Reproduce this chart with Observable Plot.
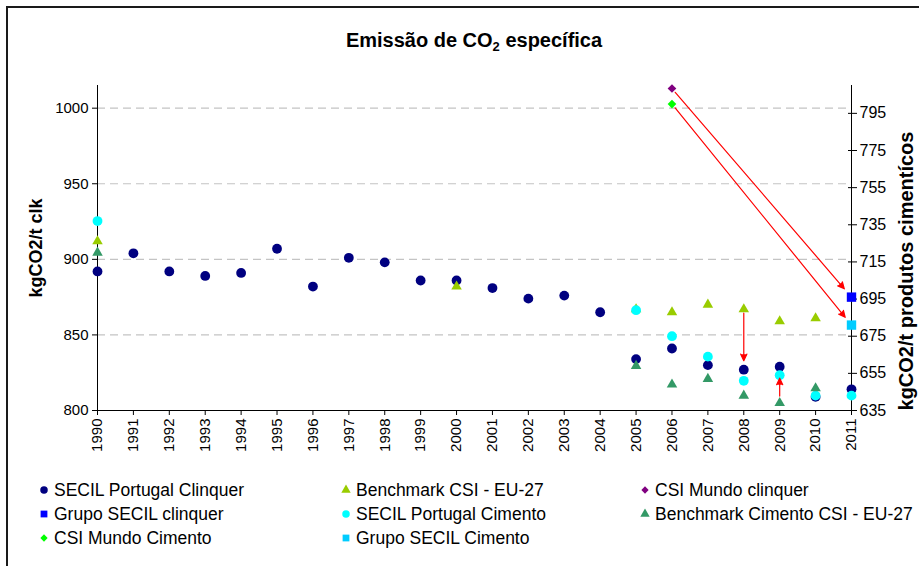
<!DOCTYPE html>
<html>
<head>
<meta charset="utf-8">
<script src="https://cdn.jsdelivr.net/npm/d3@7"></script>
<script src="https://cdn.jsdelivr.net/npm/@observablehq/plot@0.6"></script>
<style>
  body { margin: 0; background: #fff; font-family: "Liberation Sans", Arial, sans-serif; }
  #chart { position: relative; width: 919px; height: 566px; overflow: hidden; background: #fff; }
  #frame { position: absolute; left: 6px; top: 6px; width: 960px; height: 620px;
           border-top: 2px solid #1a1a1a; border-left: 2px solid #1a1a1a; }
  #title { position: absolute; left: 0; width: 948px; top: 29px; text-align: center;
           font-weight: bold; font-size: 20px; line-height: 22px; color: #000; }
  #title sub { font-size: 13px; vertical-align: -4px; line-height: 0; }
  #plot { position: absolute; left: 0; top: 60px; }
  .leg { position: absolute; font-size: 17.5px; line-height: 20px; color: #000; white-space: nowrap; }
  .leg svg { position: absolute; overflow: visible; }
</style>
</head>
<body>
<div id="chart">
  <div id="frame"></div>
  <div id="title">Emissão de CO<sub>2</sub> específica</div>
  <div id="plot"></div>
</div>
<script>
// Years on the horizontal axis (also used as tick labels)
const years = [1990, 1991, 1992, 1993, 1994, 1995, 1996, 1997, 1998, 1999, 2000,
               2001, 2002, 2003, 2004, 2005, 2006, 2007, 2008, 2009, 2010, 2011];

// Clinker series — left axis (kgCO2/t clk)
const secilPtClinquerYears = years;
const secilPtClinquer = [892, 904, 892, 889, 891, 907, 882, 901, 898, 886, 886,
                         881, 874, 876, 865, 834, 841, 830, 827, 829, 809, 814];
const benchmarkCsiYears = [1990, 2000, 2005, 2006, 2007, 2008, 2009, 2010];
const benchmarkCsi = [912, 882, 867, 865, 870, 867, 859, 861];
const csiMundoClinquerYears = [2006];
const csiMundoClinquer = [1013];
const grupoSecilClinquerYears = [2011];
const grupoSecilClinquer = [875];

// Cement series — right axis (kgCO2/t produtos cimentícos)
const secilPtCimentoYears = [1990, 2005, 2006, 2007, 2008, 2009, 2010, 2011];
const secilPtCimento = [737, 689, 675, 664, 651, 654, 643, 643];
const benchmarkCimentoYears = [1990, 2005, 2006, 2007, 2008, 2009, 2010];
const benchmarkCimento = [720, 659, 649, 652, 643, 639, 647];
const csiMundoCimentoYears = [2006];
const csiMundoCimento = [800];
const grupoSecilCimentoYears = [2011];
const grupoSecilCimento = [681];

// Axis ticks and ranges
const leftDomain = [800, 1015];
const leftTicks = [800, 850, 900, 950, 1000];
const rightDomain = [635, 810];
const rightTicks = [635, 655, 675, 695, 715, 735, 755, 775, 795];

const titleLeft = "kgCO2/t clk";
const titleRight = "kgCO2/t produtos cimentícos";

// Map the right-axis units onto the left-axis scale
const k = (leftDomain[1] - leftDomain[0]) / (rightDomain[1] - rightDomain[0]);
const toLeft = r => leftDomain[0] + (r - rightDomain[0]) * k;
const fromLeft = v => rightDomain[0] + (v - leftDomain[0]) / k;

const rows = (xs, vs, conv = v => v) => xs.map((x, i) => ({x, y: conv(vs[i])}));

const series = [
  {name: "SECIL Portugal Clinquer", symbol: "circle", color: "#000080", r: 4.9, data: rows(secilPtClinquerYears, secilPtClinquer)},
  {name: "Benchmark CSI - EU-27", symbol: "triangle", color: "#99CC00", r: 3.9, data: rows(benchmarkCsiYears, benchmarkCsi)},
  {name: "CSI Mundo clinquer", symbol: "diamond2", color: "#800080", r: 3.9, data: rows(csiMundoClinquerYears, csiMundoClinquer)},
  {name: "Grupo SECIL clinquer", symbol: "square", color: "#0000FF", r: 5.3, data: rows(grupoSecilClinquerYears, grupoSecilClinquer)},
  {name: "SECIL Portugal Cimento", symbol: "circle", color: "#00FFFF", r: 4.9, data: rows(secilPtCimentoYears, secilPtCimento, toLeft)},
  {name: "Benchmark Cimento CSI - EU-27", symbol: "triangle", color: "#339966", r: 3.9, data: rows(benchmarkCimentoYears, benchmarkCimento, toLeft)},
  {name: "CSI Mundo Cimento", symbol: "diamond2", color: "#00FF00", r: 3.9, data: rows(csiMundoCimentoYears, csiMundoCimento, toLeft)},
  {name: "Grupo SECIL Cimento", symbol: "square", color: "#00CCFF", r: 5.3, data: rows(grupoSecilCimentoYears, grupoSecilCimento, toLeft)}
];

// Arrows linking the reference values to SECIL values
const arrowStyle = {stroke: "#FF0000", fill: "#FF0000", strokeWidth: 1.2, headLength: 9, headAngle: 50};
const arrowMarks = [
  Plot.arrow([{x1: csiMundoClinquerYears[0], y1: csiMundoClinquer[0], x2: grupoSecilClinquerYears[0], y2: grupoSecilClinquer[0]}],
    {x1: "x1", y1: "y1", x2: "x2", y2: "y2", insetStart: 5, insetEnd: 11, ...arrowStyle}),
  Plot.arrow([{x1: csiMundoCimentoYears[0], y1: toLeft(csiMundoCimento[0]), x2: grupoSecilCimentoYears[0], y2: toLeft(grupoSecilCimento[0])}],
    {x1: "x1", y1: "y1", x2: "x2", y2: "y2", insetStart: 5, insetEnd: 10, ...arrowStyle}),
  Plot.arrow([{x1: 2008, y1: benchmarkCsi[benchmarkCsiYears.indexOf(2008)], x2: 2008, y2: secilPtClinquer[years.indexOf(2008)]}],
    {x1: "x1", y1: "y1", x2: "x2", y2: "y2", insetStart: 4, insetEnd: 9, ...arrowStyle}),
  Plot.arrow([{x1: 2009, y1: toLeft(benchmarkCimento[benchmarkCimentoYears.indexOf(2009)]), x2: 2009, y2: toLeft(secilPtCimento[secilPtCimentoYears.indexOf(2009)])}],
    {x1: "x1", y1: "y1", x2: "x2", y2: "y2", insetStart: 7, insetEnd: 3, ...arrowStyle})
];

const plot = Plot.plot({
  width: 919,
  height: 400,
  marginTop: 25,
  marginBottom: 50,
  marginLeft: 97,
  marginRight: 68,
  style: {fontFamily: "'Liberation Sans', Arial, sans-serif", fontSize: "15px", color: "#000", background: "transparent", overflow: "visible"},
  x: {domain: [years[0], years[years.length - 1]]},
  y: {domain: leftDomain},
  marks: [
    // dashed gridlines at the left-axis ticks
    Plot.ruleY(leftTicks.slice(1), {stroke: "#c4c4c4", strokeWidth: 1.2, strokeDasharray: "8,5"}),
    // axis lines
    Plot.ruleX([years[0], years[years.length - 1]], {stroke: "#000", strokeWidth: 1}),
    Plot.ruleY([leftDomain[0]], {stroke: "#000", strokeWidth: 1}),
    Plot.axisX({ticks: years, tickFormat: d => String(d), tickRotate: -90, tickSize: 5, tickPadding: 3, label: null, fontSize: 15}),
    Plot.axisY({ticks: leftTicks, tickFormat: d => String(d), tickSize: 5, tickPadding: 4, label: null, fontSize: 15}),
    Plot.axisY({anchor: "right", ticks: rightTicks.map(toLeft), tickFormat: v => String(Math.round(fromLeft(v))), tickSize: 5, tickPadding: 3, label: null, fontSize: 16}),
    Plot.axisY({anchor: "right", ticks: rightTicks.map(toLeft), tickSize: -4, text: null, label: null}),
    // axis titles
    Plot.text([titleLeft], {text: d => d, frameAnchor: "left", textAnchor: "middle", dx: -61, rotate: -90, fontWeight: "bold", fontSize: 18}),
    Plot.text([titleRight], {text: d => d, frameAnchor: "right", textAnchor: "middle", dx: 55, dy: 23, rotate: -90, fontWeight: "bold", fontSize: 20}),
    // series markers
    ...series.map(s => Plot.dot(s.data, {x: "x", y: "y", symbol: () => s.symbol, r: s.r, fill: s.color, stroke: "none"})),
    ...arrowMarks
  ]
});
document.getElementById("plot").appendChild(plot);

// Legend: three columns, row-major
const chart = d3.select("#chart");
const colX = [44, 346, 645];
const rowY = [490, 514, 538];
const legendSize = {circle: 44, triangle: 38, diamond2: 34, square: 46};
series.forEach((s, i) => {
  const col = i % 3, row = Math.floor(i / 3);
  const item = chart.append("div").attr("class", "leg")
    .style("left", (colX[col] + 10) + "px")
    .style("top", (rowY[row] - 10) + "px")
    .text(s.name);
  const sym = s.symbol === "diamond2" ? d3.symbolDiamond2 : s.symbol === "triangle" ? d3.symbolTriangle
            : s.symbol === "square" ? d3.symbolSquare : d3.symbolCircle;
  item.append("svg").attr("width", 10).attr("height", 10)
    .style("left", "-15px").style("top", "5px")
    .append("path")
    .attr("transform", "translate(5,5)")
    .attr("d", d3.symbol(sym, legendSize[s.symbol])())
    .attr("fill", s.color);
});
</script>
</body>
</html>
